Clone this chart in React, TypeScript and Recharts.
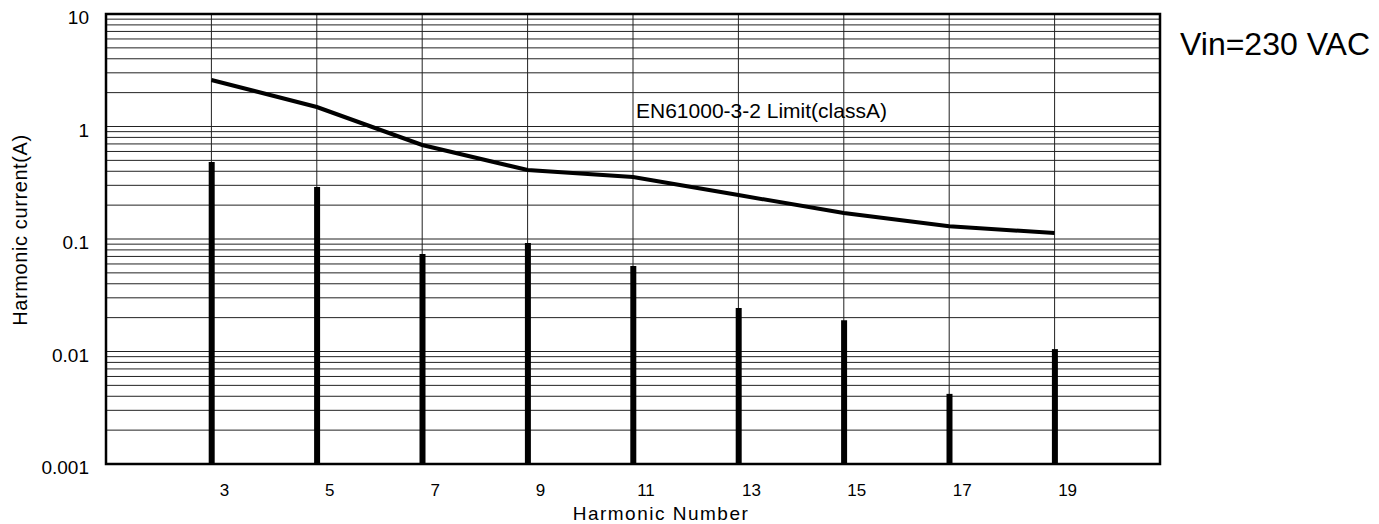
import React from 'react';
import {
  ComposedChart,
  Bar,
  Line,
  XAxis,
  YAxis,
  CartesianGrid,
  ReferenceArea,
} from 'recharts';

// harmonic orders shown on the x axis
const harmonics = [3, 5, 7, 9, 11, 13, 15, 17, 19];
// measured harmonic current (A)
const measuredCurrent = [0.483, 0.29, 0.0736, 0.092, 0.0575, 0.0244, 0.019, 0.0042, 0.0105];
// EN61000-3-2 class A limit (A)
const limitCurrent = [2.59, 1.49, 0.685, 0.41, 0.356, 0.246, 0.17, 0.13, 0.113];

const decadeValues = [0.001, 0.01, 0.1, 1, 10];
const decadeLabels = ['0.001', '0.01', '0.1', '1', '10'];
const minorSteps = [1, 2, 3, 4, 5, 6, 7, 8, 9];

const gridValues = decadeValues
  .slice(0, -1)
  .flatMap((d) => minorSteps.map((m) => +(d * m).toPrecision(3)))
  .concat([10]);

const chartData = harmonics.map((h, i) => ({
  h,
  current: measuredCurrent[i],
  limit: limitCurrent[i],
}));

const FONT = '"Liberation Sans", Arial, sans-serif';

const XTick = (props: any) => {
  const { x, y, payload } = props;
  return (
    <text x={x + 13} y={y + 32} textAnchor="middle" fontSize={17} fill="#000" fontFamily={FONT}>
      {payload.value}
    </text>
  );
};

const YTick = (props: any) => {
  const { x, y, payload } = props;
  const idx = decadeValues.findIndex((d) => Math.abs(d - payload.value) < d * 1e-6);
  if (idx < 0) return <g />;
  return (
    <text x={x} y={y + 10} textAnchor="end" fontSize={19} fill="#000" fontFamily={FONT}>
      {decadeLabels[idx]}
    </text>
  );
};

export default function App() {
  return (
    <div style={{ margin: '-8px 0 0 -8px', width: 1379, height: 524, background: '#fff', fontFamily: FONT }}>
      <ComposedChart
        width={1379}
        height={524}
        data={chartData}
        margin={{ top: 14, right: 219, left: 0, bottom: 0 }}
      >
        <CartesianGrid stroke="#222" strokeWidth={1} />
        <XAxis
          dataKey="h"
          type="number"
          domain={[1, 21]}
          ticks={harmonics}
          allowDataOverflow
          height={60}
          tickSize={0}
          tickMargin={0}
          axisLine={false}
          tick={<XTick />}
          label={{
            value: 'Harmonic Number',
            position: 'insideBottom',
            offset: 4,
            dx: 28,
            style: { fontSize: 19, letterSpacing: 1.5, fill: '#000', fontFamily: FONT },
          }}
        />
        <YAxis
          type="number"
          scale="log"
          domain={[0.001, 10]}
          ticks={gridValues}
          allowDataOverflow
          width={106}
          tickSize={0}
          tickMargin={17}
          axisLine={false}
          interval={0}
          tick={<YTick />}
          label={{
            value: 'Harmonic current(A)',
            angle: -90,
            position: 'insideLeft',
            offset: 20,
            dy: -9,
            style: { textAnchor: 'middle', fontSize: 20, letterSpacing: 0.6, fill: '#000', fontFamily: FONT },
          }}
        />
        <Bar dataKey="current" fill="#000" barSize={6} isAnimationActive={false} />
        <Line
          dataKey="limit"
          type="linear"
          stroke="#000"
          strokeWidth={4}
          dot={false}
          isAnimationActive={false}
        />
        <ReferenceArea
          x1={1}
          x2={21}
          y1={0.001}
          y2={10}
          fill="none"
          stroke="#000"
          strokeWidth={2.5}
          ifOverflow="visible"
        />
        <text x={636} y={118} fontSize={21} fill="#000" fontFamily={FONT}>
          EN61000-3-2 Limit(classA)
        </text>
        <text x={1180} y={55} fontSize={32} fill="#000" fontFamily={FONT}>
          Vin=230 VAC
        </text>
      </ComposedChart>
    </div>
  );
}
